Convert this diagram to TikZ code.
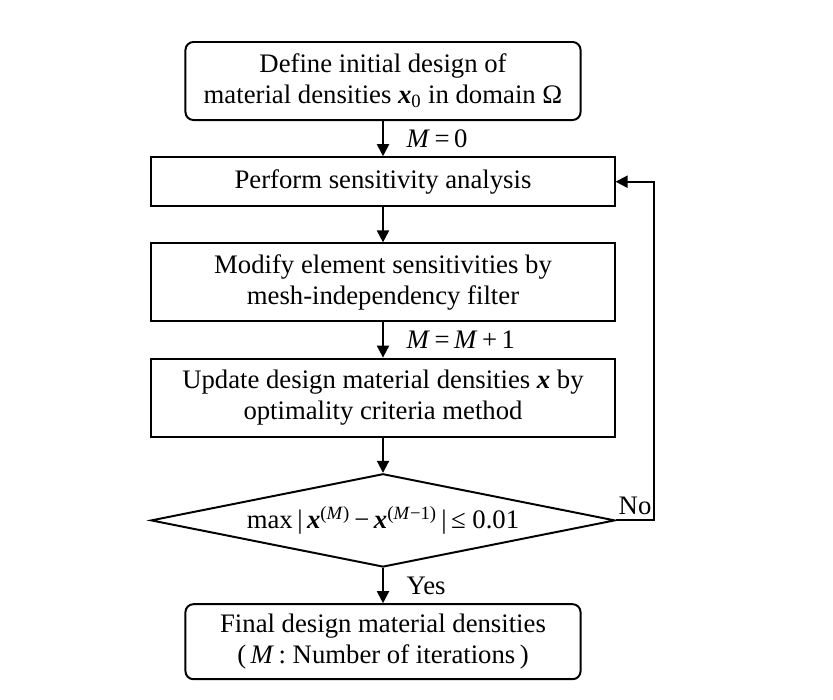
\documentclass[tikz,border=0pt]{standalone}
\usepackage{fontspec}
\setmainfont{Liberation Serif}
\usetikzlibrary{positioning, arrows.meta, shapes.geometric}
\newcommand{\bx}{\textbf{\textit{x}}}
\newcommand{\iM}{\textit{M}}

\begin{document}
\begin{tikzpicture}[
  x=0.025cm, y=-0.025cm,
  node distance=0.88cm,
  every node/.style={font=\fontsize{19}{22}\selectfont},
  startend/.style={draw, rounded corners=0.2cm, align=center, minimum width=9.875cm, minimum height=1.95cm, line width=1.4pt},
  process/.style={draw, align=center, minimum width=11.575cm, minimum height=1.95cm, line width=1.4pt},
  decision/.style={draw, diamond, aspect=5, inner sep=0pt, minimum width=11.6cm, minimum height=2.33cm, line width=1.4pt},
  arrow/.style={-{Triangle[length=0.3cm, width=0.3cm]}, line width=1.4pt}
]
\useasboundingbox (0,0) rectangle (833,699);

% Nodes
\node[startend] (init) at (383,81) {Define initial design of\\material densities \bx\textsubscript{0} in domain Ω};
\node[process, minimum height=1.225cm, below=of init] (sens) {Perform sensitivity analysis};
\node[process, below=of sens] (filt) {Modify element sensitivities by\\mesh-independency filter};
\node[process, below=of filt] (upd) {Update design material densities \bx{} by\\optimality criteria method};
\node[decision, below=of upd] (conv) {max\,|\,\bx\textsuperscript{(\iM)}\,−\,\bx\textsuperscript{(\iM−1)}\,|\,≤ 0.01};
\node[startend, minimum height=1.875cm, below=of conv] (final) {Final design material densities\\(\,\iM\,: Number of iterations\,)};

% Arrows
\draw[arrow] (init) -- node[right, xshift=0.45cm] {\iM\,=\,0} (sens);
\draw[arrow] (sens) -- (filt);
\draw[arrow] (filt) -- node[right, xshift=0.45cm] {\iM\,=\,\iM\,+\,1} (upd);
\draw[arrow] (upd) -- (conv);
\draw[arrow] (conv) -- node[right, xshift=0.45cm] {Yes} (final);
\draw[arrow] (conv.east) -- node[above] {No} ++(38,0) |- (sens.east);

\end{tikzpicture}
\end{document}
